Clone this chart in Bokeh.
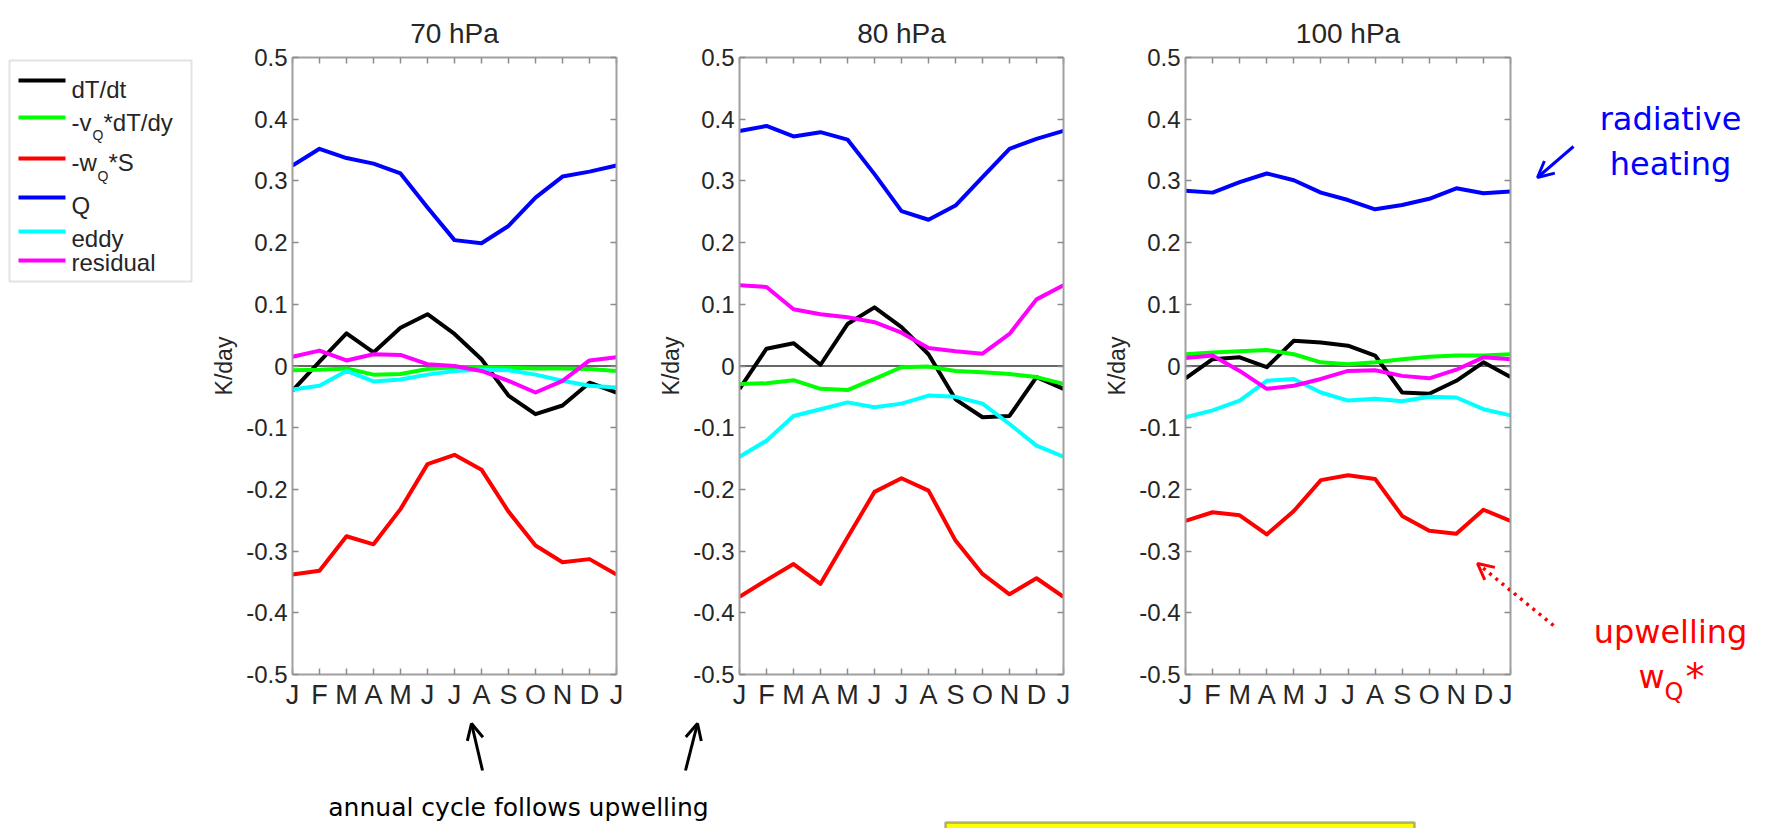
from bokeh.plotting import figure
from bokeh.models import (FixedTicker, LinearAxis, Span, Range1d, Label, Arrow,
                          OpenHead, ColumnDataSource, BoxAnnotation, CustomLabelingPolicy)
from bokeh.layouts import row, column
from bokeh.embed import file_html
from bokeh.resources import INLINE
from bokeh.core.properties import value

# ---------------- data ----------------
months = ["J", "F", "M", "A", "M", "J", "J", "A", "S", "O", "N", "D", "J"]
month_index = list(range(13))
panel_titles = ["70 hPa", "80 hPa", "100 hPa"]
series_colors = ["#000000", "#00ff00", "#ff0000", "#0000ff", "#00ffff", "#ff00ff"]
ytick_values = [-0.5, -0.4, -0.3, -0.2, -0.1, 0, 0.1, 0.2, 0.3, 0.4, 0.5]
ytick_labels = ["-0.5", "-0.4", "-0.3", "-0.2", "-0.1", "0", "0.1", "0.2", "0.3", "0.4", "0.5"]

# 70 hPa
dTdt_70 = [-0.040, 0.007, 0.053, 0.022, 0.062, 0.084, 0.052, 0.011, -0.048, -0.078, -0.064, -0.027, -0.043]
vdT_70 = [-0.007, -0.006, -0.004, -0.014, -0.013, -0.005, -0.002, -0.002, -0.003, -0.004, -0.004, -0.005, -0.008]
wS_70 = [-0.338, -0.332, -0.276, -0.289, -0.232, -0.159, -0.144, -0.168, -0.236, -0.291, -0.318, -0.313, -0.338]
Q_70 = [0.325, 0.352, 0.337, 0.328, 0.312, 0.257, 0.204, 0.199, 0.227, 0.273, 0.307, 0.315, 0.325]
eddy_70 = [-0.038, -0.032, -0.008, -0.025, -0.022, -0.014, -0.008, -0.006, -0.007, -0.014, -0.024, -0.032, -0.035]
res_70 = [0.015, 0.025, 0.009, 0.019, 0.018, 0.003, 0.000, -0.008, -0.024, -0.043, -0.024, 0.009, 0.014]

# 80 hPa
dTdt_80 = [-0.037, 0.028, 0.037, 0.002, 0.068, 0.095, 0.063, 0.019, -0.054, -0.083, -0.081, -0.018, -0.037]
vdT_80 = [-0.029, -0.028, -0.023, -0.037, -0.039, -0.021, -0.002, -0.001, -0.008, -0.010, -0.013, -0.018, -0.029]
wS_80 = [-0.374, -0.347, -0.321, -0.353, -0.278, -0.204, -0.182, -0.202, -0.283, -0.337, -0.370, -0.344, -0.374]
Q_80 = [0.381, 0.389, 0.372, 0.379, 0.367, 0.311, 0.251, 0.237, 0.260, 0.306, 0.352, 0.368, 0.381]
eddy_80 = [-0.147, -0.121, -0.081, -0.070, -0.059, -0.067, -0.061, -0.048, -0.050, -0.061, -0.094, -0.129, -0.147]
res_80 = [0.131, 0.128, 0.092, 0.084, 0.079, 0.071, 0.054, 0.029, 0.024, 0.020, 0.052, 0.108, 0.131]

# 100 hPa
dTdt_100 = [-0.020, 0.011, 0.014, -0.002, 0.041, 0.038, 0.033, 0.017, -0.043, -0.045, -0.024, 0.006, -0.018]
vdT_100 = [0.019, 0.022, 0.024, 0.026, 0.019, 0.006, 0.003, 0.006, 0.011, 0.015, 0.017, 0.017, 0.019]
wS_100 = [-0.251, -0.237, -0.242, -0.273, -0.235, -0.185, -0.177, -0.183, -0.243, -0.267, -0.272, -0.233, -0.251]
Q_100 = [0.284, 0.281, 0.298, 0.312, 0.301, 0.281, 0.269, 0.254, 0.261, 0.271, 0.288, 0.280, 0.283]
eddy_100 = [-0.083, -0.072, -0.056, -0.024, -0.021, -0.043, -0.056, -0.053, -0.057, -0.050, -0.051, -0.070, -0.080]
res_100 = [0.013, 0.017, -0.008, -0.037, -0.032, -0.021, -0.008, -0.007, -0.016, -0.020, -0.006, 0.014, 0.011]

panels = [
    [dTdt_70, vdT_70, wS_70, Q_70, eddy_70, res_70],
    [dTdt_80, vdT_80, wS_80, Q_80, eddy_80, res_80],
    [dTdt_100, vdT_100, wS_100, Q_100, eddy_100, res_100],
]

# ---------------- style ----------------
FONT = "Liberation Sans"
HAND = "DejaVu Sans"
TXT = "#262626"
BOX = "#a0a0a0"
TOP_H = 712
FRAME_TOP = 57
FRAME_BOT = 674


def style_axis(ax, labels=True):
    ax.axis_line_color = BOX
    ax.axis_line_width = 2
    ax.major_tick_line_color = "#8c8c8c"
    ax.major_tick_line_width = 1.5
    ax.major_tick_in = 6
    ax.major_tick_out = 0
    ax.minor_tick_line_color = None
    ax.major_label_text_font = FONT
    ax.major_label_text_color = TXT
    if not labels:
        ax.major_label_policy = CustomLabelingPolicy(code="return []")
        ax.major_label_text_font_size = "0px"
        ax.major_label_standoff = 0


def make_panel(title, series, width, b_left, b_right):
    p = figure(width=width, height=TOP_H, x_range=Range1d(0, 12), y_range=Range1d(-0.5, 0.5),
               output_backend="svg", toolbar_location=None,
               min_border_left=b_left, min_border_right=b_right,
               min_border_top=FRAME_TOP, min_border_bottom=TOP_H - FRAME_BOT, title=title)
    p.title.align = "center"
    p.title.text_font = FONT
    p.title.text_font_size = "28px"
    p.title.text_font_style = "normal"
    p.title.text_color = TXT
    p.title.standoff = 17
    p.xgrid.visible = False
    p.ygrid.visible = False
    p.outline_line_color = None

    p.add_layout(Span(location=0, dimension="width", line_color="#333333",
                      line_width=1.5, level="underlay"))
    for vals, color in zip(series, series_colors):
        p.line(month_index, vals, line_color=color, line_width=4, line_join="round")

    xa = p.xaxis[0]
    xa.ticker = FixedTicker(ticks=month_index)
    xa.major_label_overrides = {i: months[i] for i in month_index}
    style_axis(xa)
    xa.major_label_text_font_size = "27px"
    xa.major_label_standoff = 5

    ya = p.yaxis[0]
    ya.ticker = FixedTicker(ticks=ytick_values)
    ya.major_label_overrides = {v: l for v, l in zip(ytick_values, ytick_labels)}
    style_axis(ya)
    ya.major_label_text_font_size = "24px"
    ya.major_label_standoff = 5
    ya.axis_label = "K/day"
    ya.axis_label_text_font = FONT
    ya.axis_label_text_font_size = "23px"
    ya.axis_label_text_font_style = "normal"
    ya.axis_label_text_color = TXT
    ya.axis_label_standoff = 6

    top = LinearAxis(ticker=FixedTicker(ticks=month_index))
    style_axis(top, labels=False)
    p.add_layout(top, "above")
    right = LinearAxis(ticker=FixedTicker(ticks=ytick_values))
    style_axis(right, labels=False)
    p.add_layout(right, "right")
    return p


# ---------------- legend (pixel coordinates) ----------------
lg = figure(width=200, height=TOP_H, x_range=Range1d(0, 200), y_range=Range1d(FRAME_BOT, FRAME_TOP),
            output_backend="svg", toolbar_location=None,
            min_border_left=0, min_border_right=0,
            min_border_top=FRAME_TOP, min_border_bottom=TOP_H - FRAME_BOT,
            x_axis_location=None, y_axis_location=None)
lg.grid.visible = False
lg.outline_line_color = None
lg.add_layout(BoxAnnotation(left=9, right=191, top=60, bottom=281, fill_color="white",
                            fill_alpha=1, line_color=BOX, line_width=2, level="underlay"))
legend_y = [80, 117, 158, 197, 231, 260]
lg.segment(x0=[18] * 6, y0=legend_y, x1=[65] * 6, y1=legend_y, line_color=series_colors, line_width=4)
pieces = ColumnDataSource(dict(
    x=[71, 71, 92, 103, 71, 97, 108, 71, 71, 71],
    y=[89, 122, 134, 122, 162, 175, 162, 205, 238, 262],
    t=["dT/dt", "-v", "Q", "*dT/dy", "-w", "Q", "*S", "Q", "eddy", "residual"],
    s=["24px", "24px", "14px", "24px", "24px", "14px", "24px", "24px", "24px", "24px"],
))
lg.text(x="x", y="y", text="t", text_font_size="s", source=pieces, text_font=value(FONT),
        text_color=TXT, text_baseline="alphabetic", text_align="left")

# ---------------- panels ----------------
p1 = make_panel(panel_titles[0], panels[0], 452, 92, 36)
p2 = make_panel(panel_titles[1], panels[1], 448, 87, 37)
p3 = make_panel(panel_titles[2], panels[2], 412, 85, 2)

# dotted arrow head inside the 100 hPa panel (data units)
p3.add_layout(Arrow(end=OpenHead(size=16, line_color="#ff0000", line_width=3),
                    x_start=13.59, y_start=-0.421, x_end=10.78, y_end=-0.320,
                    line_color="#ff0000", line_width=3.5, line_dash="3 5"))

# ---------------- right annotation strip (pixel coordinates) ----------------
fr = figure(width=1768 - 1512, height=828, x_range=Range1d(1512, 1768), y_range=Range1d(828, 0),
            output_backend="svg", toolbar_location=None, min_border=0,
            x_axis_location=None, y_axis_location=None)
fr.grid.visible = False
fr.outline_line_color = None
fr.add_layout(Label(x=1670, y=118, text="radiative", text_align="center", text_baseline="alphabetic",
                    text_color="#0000ff", text_font=HAND, text_font_size="32px"))
fr.add_layout(Label(x=1670, y=163, text="heating", text_align="center", text_baseline="alphabetic",
                    text_color="#0000ff", text_font=HAND, text_font_size="32px"))
fr.add_layout(Arrow(end=OpenHead(size=16, line_color="#0000ff", line_width=3),
                    x_start=1573, y_start=146, x_end=1537, y_end=177,
                    line_color="#0000ff", line_width=3))
fr.add_layout(Label(x=1670, y=631, text="upwelling", text_align="center", text_baseline="alphabetic",
                    text_color="#ff0000", text_font=HAND, text_font_size="32px"))
fr.add_layout(Label(x=1638, y=676, text="w", text_align="left", text_baseline="alphabetic",
                    text_color="#ff0000", text_font=HAND, text_font_size="32px"))
fr.add_layout(Label(x=1664, y=691, text="Q", text_align="left", text_baseline="alphabetic",
                    text_color="#ff0000", text_font=HAND, text_font_size="24px"))
fr.add_layout(Label(x=1685, y=676, text="*", text_align="left", text_baseline="alphabetic",
                    text_color="#ff0000", text_font=HAND, text_font_size="38px"))
fr.add_layout(Arrow(end=OpenHead(size=16, line_color="#ff0000", line_width=3),
                    x_start=1553, y_start=625, x_end=1477, y_end=563,
                    line_color="#ff0000", line_width=3.5, line_dash="3 5"))

# ---------------- bottom strip (pixel coordinates) ----------------
fb = figure(width=1512, height=828 - TOP_H, x_range=Range1d(0, 1512), y_range=Range1d(828, TOP_H),
            output_backend="svg", toolbar_location=None, min_border=0,
            x_axis_location=None, y_axis_location=None)
fb.grid.visible = False
fb.outline_line_color = None
fb.add_layout(Arrow(end=OpenHead(size=16, line_color="black", line_width=3),
                    x_start=482, y_start=770, x_end=471, y_end=723, line_color="black", line_width=3))
fb.add_layout(Arrow(end=OpenHead(size=16, line_color="black", line_width=3),
                    x_start=685, y_start=770, x_end=697, y_end=723, line_color="black", line_width=3))
fb.add_layout(Label(x=518, y=807, text="annual cycle follows upwelling", text_align="center",
                    text_baseline="alphabetic", text_color="black", text_font=HAND, text_font_size="25px"))
fb.add_layout(BoxAnnotation(left=945, right=1414, top=822, bottom=860, fill_color="#ffff00",
                            fill_alpha=1, line_color="black", line_width=2.5))

layout = row(column(row(lg, p1, p2, p3), fb), fr)
open("out.html", "w").write(file_html(layout, INLINE))
